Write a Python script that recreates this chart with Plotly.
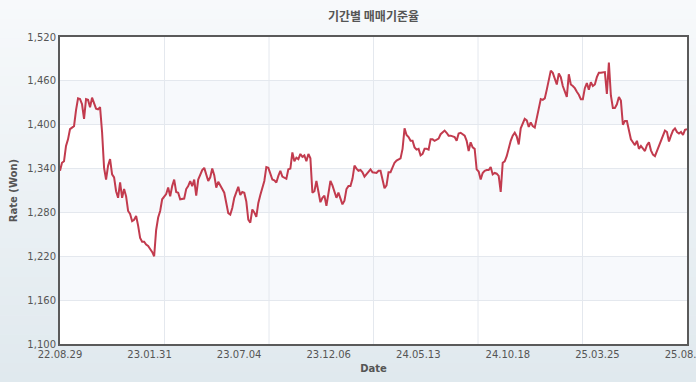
import plotly.graph_objects as go

title_text = "기간별 매매기준율"
x_title = "Date"
y_title = "Rate (Won)"
date_labels = ["22.08.29", "23.01.31", "23.07.04", "23.12.06",
               "24.05.13", "24.10.18", "25.03.25", "25.08.29"]
y_tick_values = [1100, 1160, 1220, 1280, 1340, 1400, 1460, 1520]
band_ranges = [(1160, 1220), (1280, 1340), (1400, 1460)]

# Daily base rate (KRW per USD), left to right
rate_2022 = [1337, 1348, 1350, 1371, 1380, 1394, 1396, 1398, 1420, 1436,
             1435, 1428, 1408, 1435, 1434, 1424, 1437, 1428, 1422, 1421,
             1424, 1390, 1341, 1325, 1344, 1353, 1332, 1328, 1309, 1300,
             1321, 1300, 1312, 1302, 1282, 1278, 1268, 1270, 1275, 1262,
             1245, 1240, 1240, 1236, 1234, 1230, 1226, 1220, 1256, 1273,
             1282, 1298, 1301, 1305, 1314, 1302, 1316, 1325, 1308, 1307,
             1298, 1298, 1299, 1312]
rate_2023a = [1316, 1323, 1316, 1325, 1303, 1325, 1331, 1338, 1341, 1330,
              1323, 1328, 1340, 1331, 1314, 1322, 1316, 1312, 1307, 1293,
              1279, 1277, 1286, 1300, 1307, 1315, 1304, 1308, 1307, 1295,
              1270, 1266, 1284, 1280, 1274, 1293, 1304, 1314, 1323, 1342,
              1341, 1333, 1325, 1324, 1321, 1330, 1337, 1329, 1328, 1326,
              1339, 1340, 1362, 1350, 1355, 1353, 1360, 1356, 1358, 1350,
              1360, 1354, 1307, 1309]
rate_2023b = [1323, 1309, 1294, 1300, 1303, 1289, 1306, 1323, 1317, 1307,
              1300, 1307, 1299, 1291, 1296, 1312, 1316, 1316, 1326, 1344,
              1340, 1337, 1338, 1335, 1329, 1332, 1336, 1339, 1335, 1335,
              1334, 1337, 1337, 1325, 1313, 1317, 1335, 1335, 1341, 1348,
              1351, 1353, 1354, 1367, 1395, 1386, 1383, 1378, 1378, 1369,
              1366, 1367, 1358, 1360, 1367, 1367, 1366, 1380, 1380, 1378,
              1380, 1381]
rate_2024 = [1387, 1390, 1392, 1389, 1385, 1385, 1384, 1383, 1378, 1388,
             1389, 1387, 1385, 1378, 1364, 1376, 1369, 1367, 1339, 1336,
             1325, 1334, 1337, 1338, 1338, 1342, 1332, 1334, 1333, 1330,
             1308, 1348, 1350, 1357, 1368, 1378, 1385, 1389, 1384, 1373,
             1395, 1403, 1408, 1406, 1397, 1403, 1398, 1396, 1410, 1425]
rate_2025 = [1435, 1434, 1436, 1448, 1460, 1474, 1471, 1464, 1455, 1470,
             1465, 1453, 1446, 1438, 1469, 1455, 1453, 1450, 1445, 1441,
             1435, 1435, 1450, 1457, 1448, 1458, 1453, 1455, 1465, 1471,
             1471, 1472, 1472, 1442, 1485, 1440, 1423, 1423, 1428, 1438,
             1433, 1400, 1405, 1405, 1393, 1380, 1376, 1372, 1378, 1367,
             1371, 1367, 1364, 1372, 1376, 1365, 1359, 1357, 1364, 1370,
             1376, 1383, 1392, 1390, 1377, 1385, 1392, 1395, 1390, 1388,
             1390, 1386, 1393, 1394]

rate = rate_2022 + rate_2023a + rate_2023b + rate_2024 + rate_2025
idx = list(range(len(rate)))
last = len(rate) - 1

W, H = 696, 382
ML, MR, MT, MB = 60, 9, 37, 38
PW, PH = W - ML - MR, H - MT - MB

shapes = []
# background gradient (paper coordinates covering whole figure)
n_strips = 40
top_c = (247, 249, 251)
bot_c = (224, 233, 238)
for i in range(n_strips):
    f = i / (n_strips - 1)
    c = tuple(round(top_c[k] + (bot_c[k] - top_c[k]) * f) for k in range(3))
    y0_px = H * i / n_strips
    y1_px = H * (i + 1) / n_strips + 0.6
    shapes.append(dict(type="rect", xref="paper", yref="paper", layer="below",
                       x0=-ML / PW - 0.01, x1=1 + MR / PW + 0.01,
                       y0=(H - MB - y1_px) / PH, y1=(H - MB - y0_px) / PH,
                       fillcolor="rgb(%d,%d,%d)" % c, line=dict(width=0)))
# plot area
shapes.append(dict(type="rect", xref="paper", yref="paper", layer="below",
                   x0=0, x1=1, y0=0, y1=1, fillcolor="white", line=dict(width=0)))
for b0, b1 in band_ranges:
    shapes.append(dict(type="rect", xref="paper", yref="y", layer="below",
                       x0=0, x1=1, y0=b0, y1=b1, fillcolor="#f7f9fc",
                       line=dict(width=0)))
for k in range(1, 6):
    shapes.append(dict(type="line", xref="paper", yref="paper", layer="below",
                       x0=k / 6, x1=k / 6, y0=0, y1=1,
                       line=dict(color="#e4e8ee", width=1)))

fig = go.Figure()
fig.add_trace(go.Scatter(x=idx, y=rate, mode="lines",
                         line=dict(color="#c23b4e", width=2),
                         hoverinfo="y", showlegend=False))

tickvals = [last * k / (len(date_labels) - 1) for k in range(len(date_labels))]

fig.update_layout(
    width=W, height=H,
    margin=dict(l=ML, r=MR, t=MT, b=MB, pad=0, autoexpand=False),
    paper_bgcolor="#eef3f6",
    plot_bgcolor="white",
    shapes=shapes,
    title=dict(text="<b>" + title_text + "</b>", x=(ML + PW / 2) / W, xanchor="center",
               y=1 - 17 / H, yanchor="middle",
               font=dict(family="Noto Sans CJK KR, sans-serif", size=12, color="#555555")),
    font=dict(family="DejaVu Sans", size=10, color="#555555"),
    xaxis=dict(range=[0, last], tickmode="array", tickvals=tickvals, ticktext=date_labels,
               ticklabeloverflow="allow", automargin=False,
               showgrid=False, zeroline=False, showline=True, linecolor="#5a5a5a",
               linewidth=2, mirror=True, ticks="",
               tickfont=dict(family="DejaVu Sans", size=10, color="#555555"),
               title=dict(text="<b>" + x_title + "</b>", standoff=6,
                          font=dict(family="DejaVu Sans", size=10, color="#555555"))),
    yaxis=dict(range=[1100, 1520], tickmode="array", tickvals=y_tick_values,
               tickformat=",d", showgrid=True, gridcolor="#e4e8ee", gridwidth=1,
               zeroline=False, showline=True, linecolor="#5a5a5a", linewidth=2,
               mirror=True, ticks="", automargin=False,
               tickfont=dict(family="DejaVu Sans", size=10, color="#555555"),
               title=dict(text="<b>" + y_title + "</b>", standoff=8,
                          font=dict(family="DejaVu Sans", size=10, color="#555555"))),
)

fig.write_html("out.html", config={"displayModeBar": False},
               post_script="document.body.style.margin='0';document.body.style.overflow='hidden';")
